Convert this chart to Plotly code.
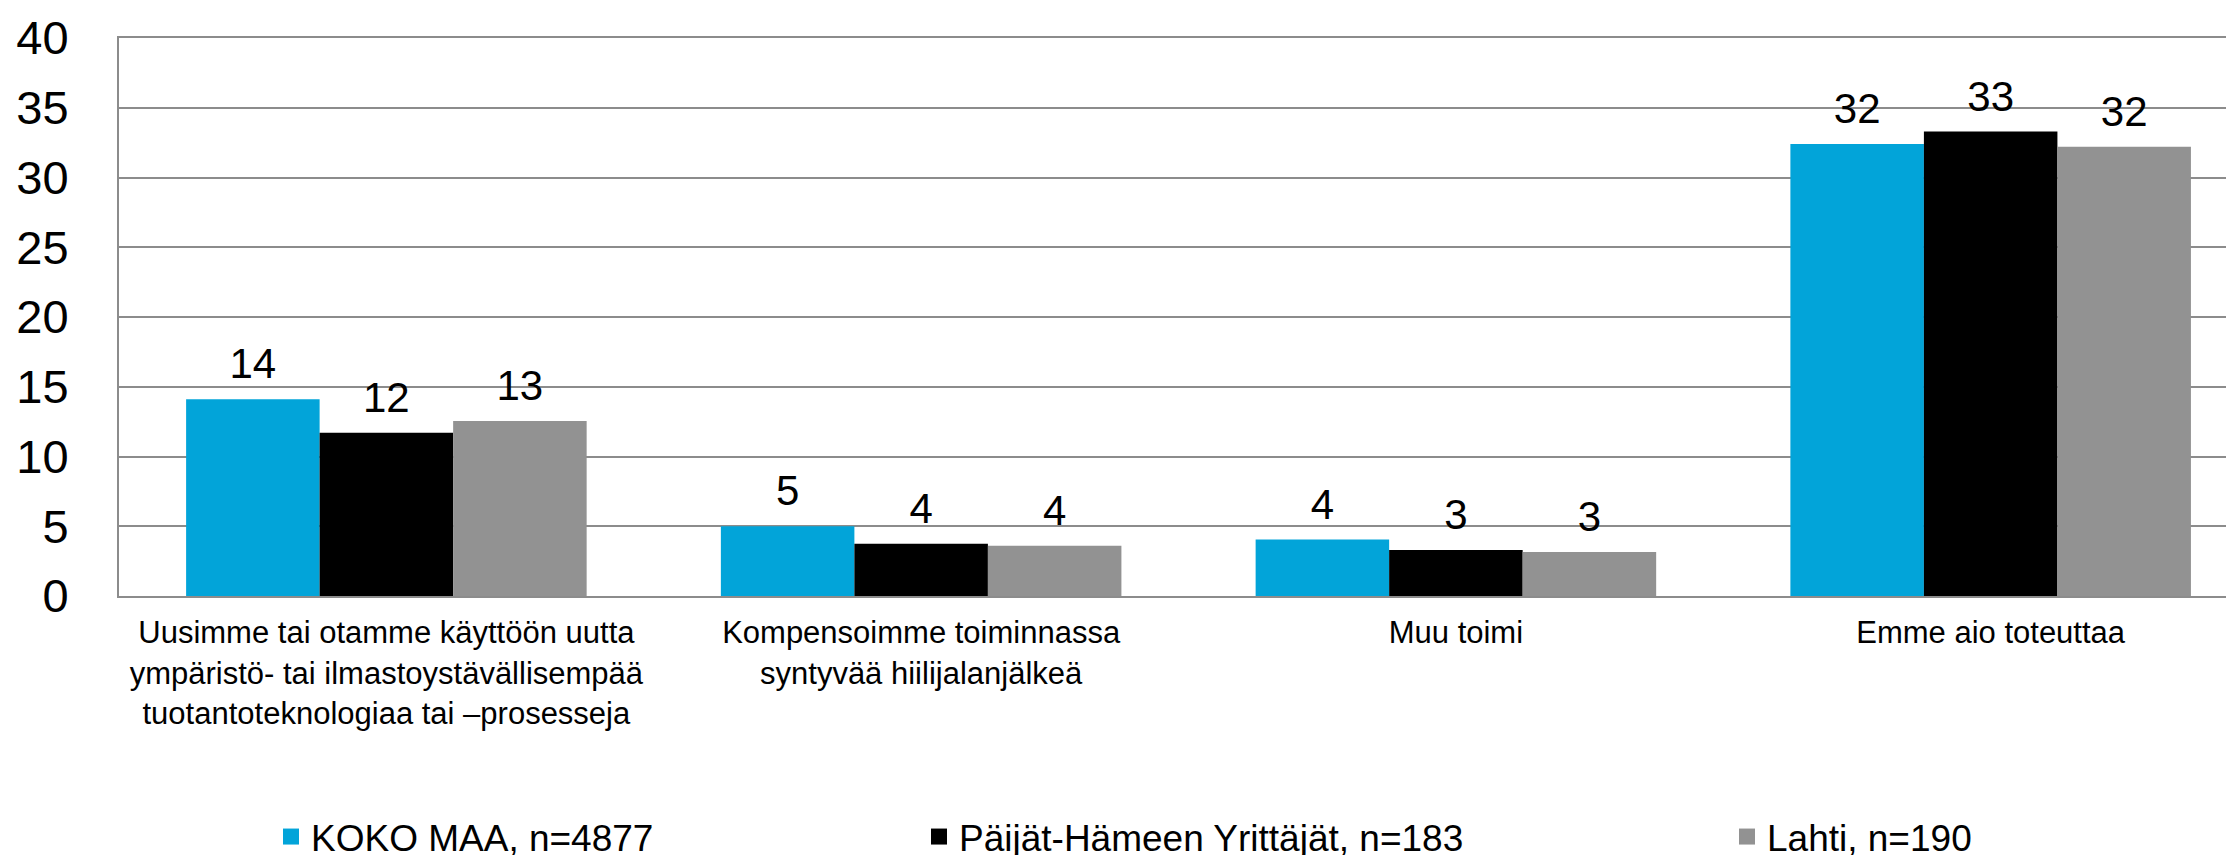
import plotly.graph_objects as go

categories = [
    "Uusimme tai otamme käyttöön uutta<br>ympäristö- tai ilmastoystävällisempää<br>tuotantoteknologiaa tai –prosesseja",
    "Kompensoimme toiminnassa<br>syntyvää hiilijalanjälkeä",
    "Muu toimi",
    "Emme aio toteuttaa",
]
series_names = ["KOKO MAA, n=4877", "Päijät-Hämeen Yrittäjät, n=183", "Lahti, n=190"]
koko_maa = [14.1, 5.0, 4.05, 32.4]
paijat_hame = [11.7, 3.75, 3.3, 33.3]
lahti = [12.55, 3.6, 3.15, 32.2]
series_values = [koko_maa, paijat_hame, lahti]
colors = ["#02A4D9", "#000000", "#929292"]

FONT = "Arial, 'Liberation Sans', sans-serif"
GAP = 0.251
LABEL_PAD = 0.75  # gap between bar top and its value label, in axis units

fig = go.Figure()
groups = ["g1", "g2", "g3"]
legend_ids = ["legend", "legend2", "legend3"]

for name, vals, col, grp in zip(series_names, series_values, colors, groups):
    fig.add_trace(go.Bar(
        x=categories, y=vals, name=name, marker=dict(color=col, line=dict(width=0)),
        offsetgroup=grp, showlegend=False, hoverinfo="x+y+name",
    ))

# value labels, placed above each bar through the same grouped offsets
for name, vals, grp in zip(series_names, series_values, groups):
    fig.add_trace(go.Scatter(
        x=categories, y=[v + LABEL_PAD for v in vals], mode="text", name=name,
        text=[f"{v:.0f}" for v in vals], textposition="top center",
        textfont=dict(size=42, color="#000000", family=FONT),
        offsetgroup=grp, showlegend=False, cliponaxis=False, hoverinfo="skip",
    ))

# legend entries
for name, col, lid, grp in zip(series_names, colors, legend_ids, groups):
    fig.add_trace(go.Scatter(
        x=[None], y=[None], mode="markers", name=name,
        marker=dict(symbol="square", size=19, color=col),
        legend=lid, showlegend=True, offsetgroup=grp,
    ))

legend_x_px = [263, 911, 1719]
leg_common = dict(orientation="h", xref="container", yref="container",
                  xanchor="left", yanchor="top", y=1 - 798 / 855,
                  font=dict(size=37, family=FONT, color="#000000"),
                  bgcolor="rgba(0,0,0,0)", borderwidth=0, itemsizing="trace")

fig.update_layout(
    width=2234, height=855,
    margin=dict(l=111, r=0, t=30, b=267, autoexpand=False),
    paper_bgcolor="white", plot_bgcolor="white",
    barmode="group", bargap=GAP, bargroupgap=0,
    scattermode="group", scattergap=GAP,
    font=dict(family=FONT, color="#000000"),
    legend=dict(x=legend_x_px[0] / 2234, **leg_common),
    legend2=dict(x=legend_x_px[1] / 2234, **leg_common),
    legend3=dict(x=legend_x_px[2] / 2234, **leg_common),
    xaxis=dict(
        range=[-0.5, 3.47], showgrid=False, showline=True, mirror=True,
        linecolor="#8c8c8c", linewidth=2, ticks="", automargin=False,
        tickfont=dict(size=31, family=FONT, color="#000000"),
        ticklabelstandoff=8,
    ),
    yaxis=dict(
        range=[0, 40], dtick=5, showgrid=True, gridcolor="#8c8c8c", gridwidth=2,
        showline=True, linecolor="#8c8c8c", linewidth=2, ticks="", automargin=False,
        tickfont=dict(size=47, family=FONT, color="#000000"),
        ticklabelstandoff=39, zeroline=False,
    ),
)

fig.write_html("out.html")
